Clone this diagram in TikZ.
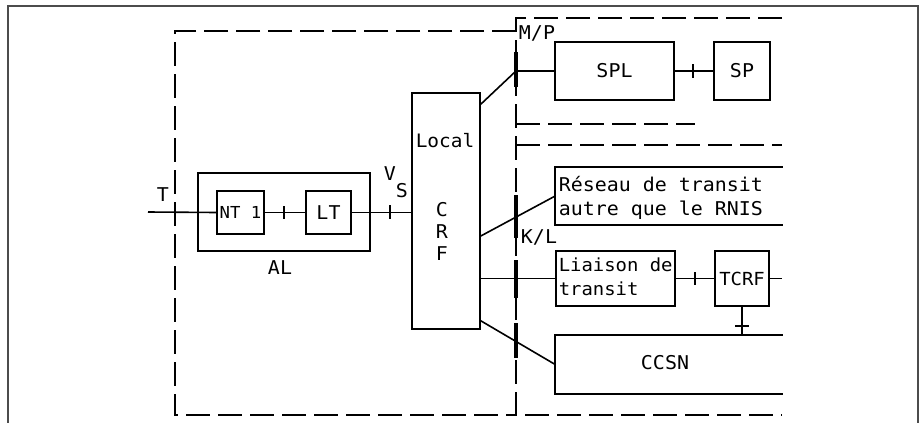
\documentclass[tikz,border=0pt]{standalone}
\usepackage{fontspec}
\newfontfamily\mono[FakeStretch=1.05]{DejaVu Sans Mono}
\usetikzlibrary{calc}
\begin{document}
\begin{tikzpicture}[x=1pt,y=-1pt,
  line width=1.6pt,
  every node/.style={font=\mono\fontsize{19}{24}\selectfont, inner sep=0pt},
  box/.style={draw, rectangle},
  dsh/.style={dash pattern=on 24pt off 8pt},
  bar/.style={line width=4.2pt}]
\useasboundingbox (0,0) rectangle (924,423);
% outer frame
\draw[black!70] (8,423) -- (8,6) -- (918,6) -- (918,423);
% dashed regions
\draw[dsh] (516,31) -- (175,31) -- (175,415) -- (516,415);
\draw[dsh] (782,18) -- (516,18) -- (516,415) -- (782,415);
\draw[dsh] (516,124) -- (695,124);
\draw[dsh] (516,145) -- (782,145);
% boxes
\node[box, minimum width=172, minimum height=78] (al) at (284,212) {};
\node[box, minimum width=47, minimum height=43, font=\mono\fontsize{16.5}{20}\selectfont] (nt1) at (240.5,212.5) {NT 1};
\node[box, minimum width=45, minimum height=43] (lt) at (328.5,212.5) {LT};
\node[box, minimum width=68, minimum height=236] (local) at (446,211) {};
\node[box, minimum width=119, minimum height=58] (spl) at (614.5,71) {SPL};
\node[box, minimum width=56, minimum height=58] (sp) at (742,71) {SP};
\node[box, minimum width=119, minimum height=55] (lia) at (615.5,278.5) {};
\node[box, minimum width=54, minimum height=55, font=\mono\fontsize{18}{24}\selectfont] (tcrf) at (742,278.5) {TCRF};
\node[minimum width=226, minimum height=56] (rs) at (669,196) {};
\node[minimum width=226, minimum height=57] (ccsn) at (669,364.5) {};
\draw (rs.north east) -- (rs.north west) -- (rs.south west) -- (rs.south east);
\draw (ccsn.north east) -- (ccsn.north west) -- (ccsn.south west) -- (ccsn.south east);
% texts
\node (allbl) at (280,268) {AL};
\node (tlbl) at (163,195) {T};
\node[anchor=base west] (vs) at (383,180) {V\raisebox{-17pt}{S}};
\node[anchor=west, font=\mono\fontsize{18.5}{24}\selectfont] (loc) at (415,141) {Local};
\node[align=center, font=\mono\fontsize{19}{22}\selectfont] (crf) at (442,231) {C\\R\\F};
\node[anchor=west, align=left] (rstxt) at (558,198) {Réseau de transit\\autre que le RNIS};
\node[anchor=west, align=left, font=\mono\fontsize{18}{24}\selectfont] (liatxt) at (558,277) {Liaison de\\transit};
\node (ccsntxt) at (665,363) {CCSN};
\node (mplbl) at (537,33) {M/P};
\node (kllbl) at (539,237) {K/L};
% interface points
\coordinate (tin) at (148,212);
\coordinate (mp) at (516,71);
\coordinate (tcrfout) at (782,278.5);
% connectors
\draw (tin) -- (nt1.west);
\draw (nt1.east) -- (lt.west);
\draw (lt.east) -- (local.west |- lt.east);
\draw ($(local.north east)+(0,12)$) -- (mp) -- (spl.west);
\draw (spl.east) -- (sp.west);
\draw ($(local.east)+(0,25)$) -- (rs.west);
\draw (local.east |- lia.west) -- (lia.west);
\draw ($(local.south east)+(0,-9)$) -- (ccsn.west);
\draw (lia.east) -- (tcrf.west);
\draw (tcrf.east) -- (tcrfout);
\draw (tcrf.south) -- (tcrf.south |- ccsn.north);
% ticks
\draw (284,206) -- (284,219);
\draw (390,205) -- (390,219);
\draw (693,64) -- (693,78);
\draw (695,272) -- (695,285);
\draw (735,326) -- (749,326);
% interface bars
\draw[bar] (516,52) -- (516,87);
\draw[bar] (516,195) -- (516,238);
\draw[bar] (516,260) -- (516,298);
\draw[bar] (516,323) -- (516,358);
\end{tikzpicture}
\end{document}
